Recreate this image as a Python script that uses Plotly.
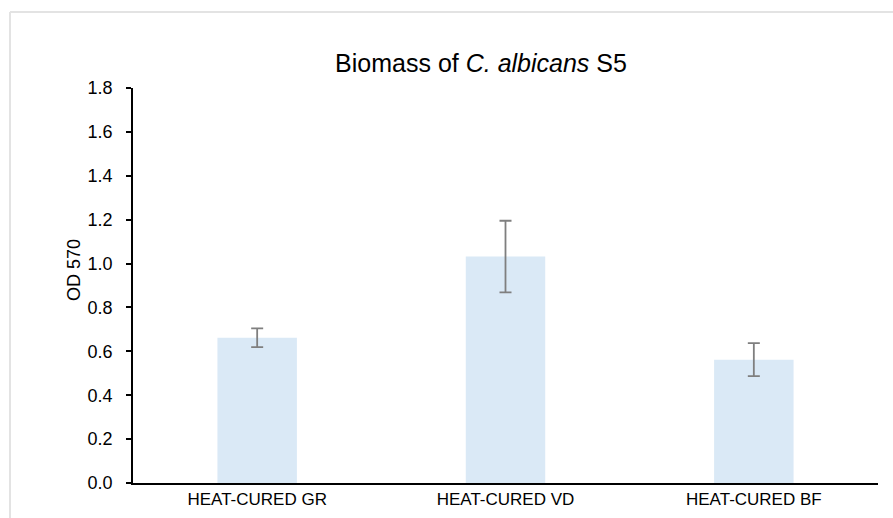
import plotly.graph_objects as go

categories = ["HEAT-CURED GR", "HEAT-CURED VD", "HEAT-CURED BF"]
od_values = [0.662, 1.032, 0.562]
od_errors = [0.043, 0.163, 0.075]
y_ticks = [0.0, 0.2, 0.4, 0.6, 0.8, 1.0, 1.2, 1.4, 1.6, 1.8]

W, H = 893, 518
ML, MR, MT, MB = 133, 15, 88, 35
pw = W - ML - MR
ph = H - MT - MB

fig = go.Figure()
fig.add_trace(go.Bar(
    x=categories, y=od_values,
    marker=dict(color="#DAE9F6", line=dict(width=0)),
    width=0.32,
    error_y=dict(type="data", array=od_errors, visible=True,
                 color="#7F7F7F", thickness=1.8, width=6),
))

font = "Liberation Sans, Arial, sans-serif"
fig.update_layout(
    width=W, height=H,
    margin=dict(l=ML, r=MR, t=MT, b=MB, autoexpand=False),
    paper_bgcolor="white", plot_bgcolor="white",
    showlegend=False,
    font=dict(family=font, color="black"),
    title=dict(text="Biomass of <i>C. albicans</i> S5", x=481 / W, xanchor="center",
               y=1 - 63 / H, yanchor="middle", yref="container",
               font=dict(size=25, family=font, color="black")),
    xaxis=dict(showline=True, linecolor="black", linewidth=1.5, ticks="",
               automargin=False,
               tickfont=dict(size=17, family=font, color="black"),
               showgrid=False, zeroline=False),
    yaxis=dict(range=[0, 1.8], tickvals=y_ticks, tickformat=".1f",
               showline=True, linecolor="black", linewidth=1.5,
               ticks="outside", ticklen=5, tickwidth=1.5, tickcolor="black",
               automargin=False, ticklabelstandoff=10,
               tickfont=dict(size=18, family=font, color="black"),
               showgrid=False, zeroline=False),
    annotations=[
        dict(text="OD 570", xref="paper", yref="paper",
             x=(74 - ML) / pw, y=(H - MB - 270) / ph,
             xanchor="center", yanchor="middle", textangle=-90, showarrow=False,
             font=dict(size=18, family=font, color="black")),
    ],
    shapes=[
        dict(type="line", xref="paper", yref="paper",
             x0=(10 - ML) / pw, x1=(W + 5 - ML) / pw,
             y0=(H - MB - 12) / ph, y1=(H - MB - 12) / ph,
             line=dict(color="#E3E3E3", width=2)),
        dict(type="line", xref="paper", yref="paper",
             x0=(10 - ML) / pw, x1=(10 - ML) / pw,
             y0=(H - MB - 12) / ph, y1=(H - MB - H - 5) / ph,
             line=dict(color="#E3E3E3", width=2)),
    ],
)

fig.write_html("out.html", config={"displayModeBar": False},
               post_script="document.body.style.margin='0px';document.body.style.overflow='hidden';")
